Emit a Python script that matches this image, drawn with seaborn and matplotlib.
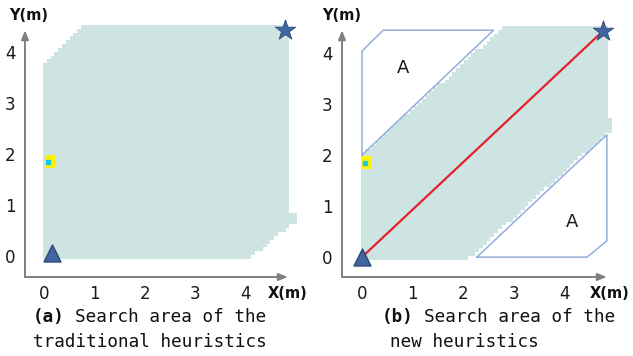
import numpy as np
import matplotlib
matplotlib.use("Agg")
import matplotlib.pyplot as plt
from matplotlib.path import Path
from matplotlib.colors import ListedColormap
import seaborn as sns
import pandas as pd

# ---------------- data ----------------
ticks = [0, 1, 2, 3, 4]
# search area of the traditional heuristics (polygon outline, metres)
area_a_x = [0.0, 4.08, 4.87, 4.97, 4.97, 4.87, 4.87, 0.77, 0.0]
area_a_y = [-0.06, -0.06, 0.60, 0.60, 0.84, 0.84, 4.48, 4.48, 3.78]
# search area of the new heuristics
area_b_x = [0.0, 2.07, 4.84, 4.94, 4.94, 4.84, 4.84, 2.77, 0.0]
area_b_y = [-0.06, -0.06, 2.43, 2.43, 2.72, 2.72, 4.48, 4.48, 2.0]
# excluded regions "A"
regA1_x = [0.0, 0.0, 0.42, 2.60, 0.0]
regA1_y = [2.0, 4.04, 4.45, 4.45, 2.0]
regA2_x = [2.27, 4.45, 4.84, 4.84, 2.27]
regA2_y = [0.0, 0.0, 0.32, 2.40, 0.0]
labelA_x = [0.82, 4.15]
labelA_y = [3.70, 0.68]
# start / goal / obstacle cell
start_a = (0.15, 0.06)
start_b = (0.0, 0.0)
goal_a = (4.77, 4.43)
goal_b = (4.76, 4.43)
cell_a = (0.12, 1.86)
cell_b = (0.10, 1.86)
captions = [("(a)", "Search area of the", "traditional heuristics"),
            ("(b)", "Search area of the", "new heuristics")]

# ---------------- style ----------------
sns.set_theme(style="white")
plt.rcParams["font.family"] = ["DejaVu Sans"]

W, H = 633, 356
fig = plt.figure(figsize=(W / 100, H / 100), dpi=100)

TEAL = "#CDE4E2"
BLUE = "#41659E"
GRAY = "#808080"
OUT = "#93AEDB"


def px_axes(x0, x1, y0, y1):
    return fig.add_axes([x0 / W, 1 - y1 / H, (x1 - x0) / W, (y1 - y0) / H])


def draw_area(ax, xs, ys):
    step = 0.075
    xe = np.arange(-0.02, 5.05, step)
    ye = np.arange(-0.06, 4.6, step)
    xc = (xe[:-1] + xe[1:]) / 2
    yc = (ye[:-1] + ye[1:]) / 2
    XX, YY = np.meshgrid(xc, yc)
    path = Path(np.column_stack([xs, ys]))
    inside = path.contains_points(np.column_stack([XX.ravel(), YY.ravel()])).reshape(XX.shape)
    Z = np.ma.masked_where(~inside, np.ones_like(XX))
    ax.imshow(Z, cmap=ListedColormap([TEAL]), vmin=0, vmax=1, origin="lower",
              extent=(xe[0], xe[-1], ye[0], ye[-1]), interpolation="nearest",
              aspect="auto", zorder=1)


def setup(ax, xlim, ylim, xtip, ytip):
    ax.set_xlim(*xlim)
    ax.set_ylim(*ylim)
    for s in ax.spines.values():
        s.set_visible(False)
    ax.set_xticks(ticks)
    ax.set_yticks(ticks)
    ax.tick_params(direction="in", length=6, width=1.3, color=GRAY,
                   labelsize=12, labelcolor="#1a1a1a", pad=6)
    ax.tick_params(axis="y", pad=7)
    ap = dict(arrowstyle="-|>,head_length=0.45,head_width=0.18", color=GRAY, lw=1.4,
              shrinkA=0, shrinkB=0)
    ax.annotate("", xy=(xtip, ylim[0]), xytext=(xlim[0], ylim[0]), arrowprops=ap,
                annotation_clip=False)
    ax.annotate("", xy=(xlim[0], ytip), xytext=(xlim[0], ylim[0]), arrowprops=ap,
                annotation_clip=False)
    ax.set_xlabel("")
    ax.set_ylabel("")


def markers(ax, start, goal, cell):
    ax.add_patch(plt.Rectangle((cell[0] - 0.1, cell[1] - 0.13), 0.2, 0.26,
                               color="#FFF200", zorder=3, lw=0))
    ax.plot([cell[0] - 0.05], [cell[1] - 0.02], "s", color="#18C8E8", ms=3.5, zorder=4)
    df = pd.DataFrame({"x": [start[0]], "y": [start[1]]})
    sns.scatterplot(data=df, x="x", y="y", marker="^", s=150, color=BLUE,
                    edgecolor="#2F4A78", linewidth=1, ax=ax, zorder=6)
    dg = pd.DataFrame({"x": [goal[0]], "y": [goal[1]]})
    sns.scatterplot(data=dg, x="x", y="y", marker="*", s=240, color=BLUE,
                    edgecolor="#2F4A78", linewidth=0.6, ax=ax, zorder=6)


# ---------- panel (a) ----------
axa = px_axes(25, 300, 20, 277)
draw_area(axa, area_a_x, area_a_y)
markers(axa, start_a, goal_a, cell_a)
setup(axa, (-0.376, 5.07), (-0.41, 4.63), 4.83, 4.43)

# ---------- panel (b) ----------
axb = px_axes(342, 620, 20, 277)
draw_area(axb, area_b_x, area_b_y)
for xs, ys in [(regA1_x, regA1_y), (regA2_x, regA2_y)]:
    axb.plot(xs, ys, color=OUT, lw=1.1, zorder=2)
for lx, ly in zip(labelA_x, labelA_y):
    axb.text(lx, ly, "A", fontsize=13, ha="center", va="center", color="#1a1a1a")
line = pd.DataFrame({"x": [start_b[0], goal_b[0]], "y": [start_b[1], goal_b[1]]})
sns.lineplot(data=line, x="x", y="y", color="#E8202A", lw=1.6, ax=axb, zorder=5)
markers(axb, start_b, goal_b, cell_b)
setup(axb, (-0.395, 5.10), (-0.39, 4.65), 4.84, 4.45)

# axis labels
for x, y, t in [(29, 15, "Y(m)"), (288, 293, "X(m)"), (342, 15, "Y(m)"), (610, 293, "X(m)")]:
    fig.text(x / W, 1 - y / H, t, fontsize=10.5, fontweight="bold", ha="center",
             va="center", color="#111111")

# captions
FS = 12.7
CW = 0.602 * FS * 100 / 72  # monospace advance, px
for (tag, l1, l2), x1, x2 in zip(captions, [33, 382], [33, 390]):
    fig.text(x1 / W, 1 - 322 / H, tag, family="DejaVu Sans Mono", fontweight="bold",
             fontsize=FS, ha="left", va="baseline", color="#111111")
    fig.text((x1 + (len(tag) + 1) * CW) / W, 1 - 322 / H, l1, family="DejaVu Sans Mono",
             fontsize=FS, ha="left", va="baseline", color="#111111")
    fig.text(x2 / W, 1 - 347 / H, l2, family="DejaVu Sans Mono",
             fontsize=FS, ha="left", va="baseline", color="#111111")

fig.savefig("out.png", dpi=100)
